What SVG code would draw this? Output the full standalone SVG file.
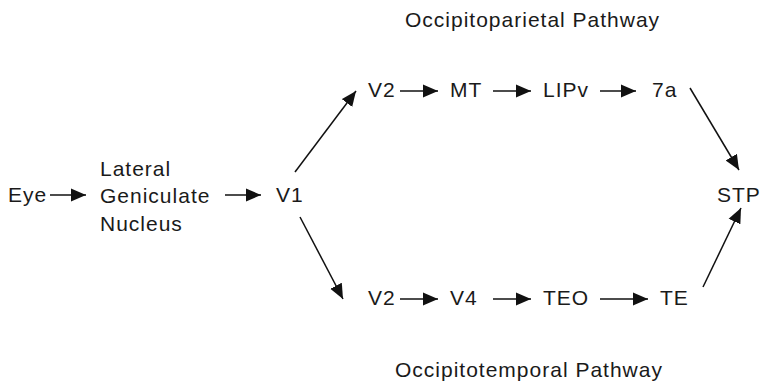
<svg xmlns="http://www.w3.org/2000/svg" width="761" height="384" viewBox="0 0 761 384">
<defs>
<style>
text{font-family:"Liberation Sans",Arial,sans-serif;font-size:21px;fill:#1a1a1a;letter-spacing:1px}
.c line{stroke:#111;stroke-width:1.5;fill:none}
</style>
<marker id="ah" markerUnits="userSpaceOnUse" markerWidth="16" markerHeight="14" refX="15" refY="7" orient="auto">
<path d="M0,0.5 L15,7 L0,13.5 Z" fill="#111"/>
</marker>
</defs>
<rect width="761" height="384" fill="#fff"/>
<text id="title-top" x="405" y="27">Occipitoparietal Pathway</text>
<text id="title-bottom" x="395" y="377">Occipitotemporal Pathway</text>
<g id="eye"><text x="8" y="202">Eye</text></g>
<g id="lgn"><text x="100" y="176">Lateral</text><text x="100" y="203">Geniculate</text><text x="100" y="231">Nucleus</text></g>
<g id="v1"><text x="276" y="202">V1</text></g>
<g id="v2-top"><text x="368" y="97">V2</text></g>
<g id="mt"><text x="450" y="97">MT</text></g>
<g id="lipv"><text x="543" y="97">LIPv</text></g>
<g id="7a"><text x="652" y="97">7a</text></g>
<g id="stp"><text x="717" y="202">STP</text></g>
<g id="v2-bottom"><text x="368" y="305">V2</text></g>
<g id="v4"><text x="450" y="305">V4</text></g>
<g id="teo"><text x="543" y="305">TEO</text></g>
<g id="te"><text x="660" y="305">TE</text></g>
<g id="connectors" class="c">
<line x1="50" y1="195" x2="86" y2="195" marker-end="url(#ah)"/>
<line x1="225" y1="195" x2="261" y2="195" marker-end="url(#ah)"/>
<line x1="295" y1="172" x2="356" y2="91" marker-end="url(#ah)"/>
<line x1="300" y1="217" x2="343" y2="299" marker-end="url(#ah)"/>
<line x1="400" y1="91" x2="438" y2="91" marker-end="url(#ah)"/>
<line x1="493" y1="91" x2="531" y2="91" marker-end="url(#ah)"/>
<line x1="600" y1="91" x2="636" y2="91" marker-end="url(#ah)"/>
<line x1="690" y1="88" x2="739" y2="170" marker-end="url(#ah)"/>
<line x1="400" y1="299" x2="438" y2="299" marker-end="url(#ah)"/>
<line x1="493" y1="299" x2="531" y2="299" marker-end="url(#ah)"/>
<line x1="600" y1="299" x2="648" y2="299" marker-end="url(#ah)"/>
<line x1="703" y1="287" x2="741" y2="208" marker-end="url(#ah)"/>
</g>
</svg>
